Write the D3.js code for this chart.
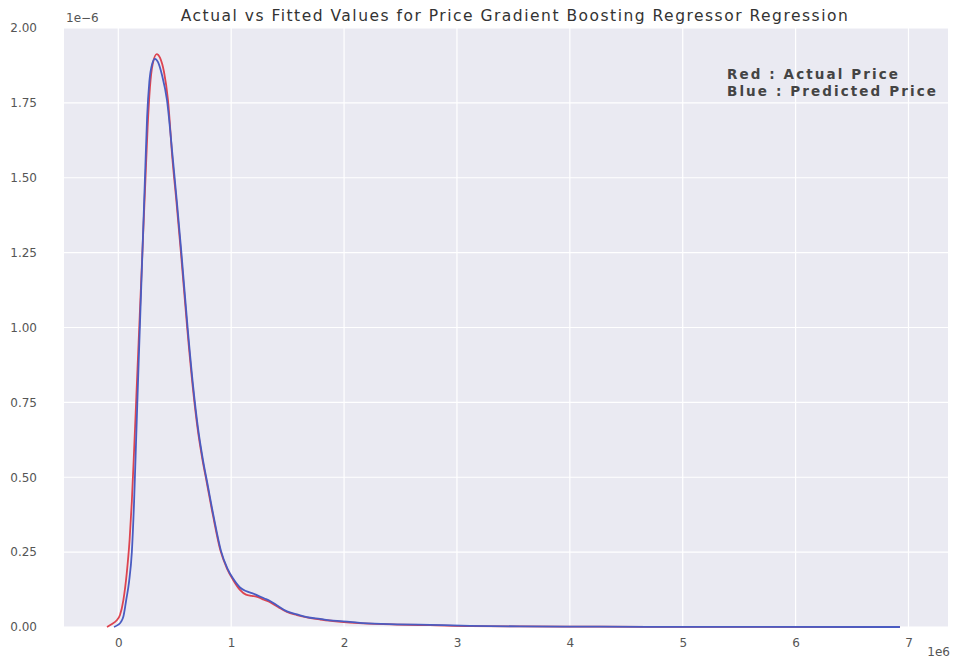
<!DOCTYPE html>
<html>
<head>
<meta charset="utf-8">
<script src="https://cdn.jsdelivr.net/npm/d3@7"></script>
<style>
  html, body { margin: 0; padding: 0; background: #ffffff; }
  svg { display: block; }
  text { font-family: "DejaVu Sans", sans-serif; }
</style>
</head>
<body>
<svg id="chart" width="957" height="660"></svg>
<script>
// Density estimates of price (x in units of 1e6, density in units of 1e-6)
const actualPrice = [-0.100, -0.056, -0.020, 0.015, 0.045, 0.075, 0.100, 0.120, 0.140, 0.160, 0.180, 0.200, 0.220, 0.240, 0.260, 0.280, 0.305, 0.340, 0.370, 0.405, 0.440, 0.480, 0.515, 0.555, 0.610, 0.660, 0.700, 0.745, 0.785, 0.840, 0.905, 0.963, 1.016, 1.078, 1.131, 1.184, 1.237, 1.290, 1.344, 1.415, 1.494, 1.583, 1.671, 1.787, 1.902, 2.053, 2.168, 2.469, 2.761, 3.115, 3.558, 4.267, 5.153, 6.924];
const actualDensity = [0.000, 0.010, 0.020, 0.040, 0.090, 0.180, 0.290, 0.420, 0.590, 0.770, 0.950, 1.130, 1.310, 1.490, 1.670, 1.800, 1.880, 1.913, 1.900, 1.853, 1.760, 1.560, 1.420, 1.249, 1.000, 0.800, 0.670, 0.560, 0.480, 0.370, 0.255, 0.195, 0.158, 0.124, 0.108, 0.104, 0.100, 0.091, 0.083, 0.067, 0.050, 0.040, 0.032, 0.025, 0.020, 0.015, 0.012, 0.008, 0.006, 0.003, 0.002, 0.001, 0.0005, 0.000];

const predictedPrice = [-0.038, -0.003, 0.024, 0.045, 0.070, 0.095, 0.120, 0.140, 0.160, 0.180, 0.200, 0.220, 0.240, 0.255, 0.275, 0.300, 0.325, 0.352, 0.387, 0.431, 0.484, 0.519, 0.559, 0.614, 0.664, 0.704, 0.749, 0.789, 0.844, 0.909, 0.967, 1.020, 1.078, 1.131, 1.184, 1.237, 1.290, 1.344, 1.415, 1.494, 1.583, 1.671, 1.787, 1.902, 2.053, 2.168, 2.469, 2.761, 3.115, 3.558, 4.267, 5.153, 6.924];
const predictedDensity = [0.000, 0.007, 0.017, 0.035, 0.090, 0.150, 0.250, 0.420, 0.650, 0.880, 1.100, 1.320, 1.540, 1.700, 1.820, 1.880, 1.897, 1.886, 1.843, 1.760, 1.560, 1.420, 1.249, 1.000, 0.800, 0.670, 0.560, 0.480, 0.370, 0.255, 0.195, 0.160, 0.132, 0.120, 0.113, 0.105, 0.096, 0.087, 0.070, 0.052, 0.042, 0.033, 0.027, 0.021, 0.017, 0.013, 0.009, 0.007, 0.004, 0.002, 0.001, 0.0005, 0.000];

const xTicks = [0, 1, 2, 3, 4, 5, 6, 7];
const yTicks = [0, 0.25, 0.5, 0.75, 1.0, 1.25, 1.5, 1.75, 2.0];

const titleText = "Actual vs Fitted Values for Price Gradient Boosting Regressor Regression";
const noteLines = ["Red : Actual Price", "Blue : Predicted Price"];

const svg = d3.select("#chart");
const plot = { left: 64, right: 948, top: 28, bottom: 627 };

const x = d3.scaleLinear().domain([-0.481, 7.35]).range([plot.left, plot.right]);
const y = d3.scaleLinear().domain([0, 2.0]).range([plot.bottom, plot.top]);

// Axes background
svg.append("rect")
  .attr("x", plot.left).attr("y", plot.top)
  .attr("width", plot.right - plot.left).attr("height", plot.bottom - plot.top)
  .attr("fill", "#eaeaf2");

// Grid lines
const grid = svg.append("g");
grid.selectAll("line.gx").data(xTicks).join("line")
  .attr("x1", d => x(d)).attr("x2", d => x(d))
  .attr("y1", plot.top).attr("y2", plot.bottom)
  .attr("stroke", "#ffffff").attr("stroke-width", 1.2);
grid.selectAll("line.gy").data(yTicks).join("line")
  .attr("x1", plot.left).attr("x2", plot.right)
  .attr("y1", d => y(d)).attr("y2", d => y(d))
  .attr("stroke", "#ffffff").attr("stroke-width", 1.2);

// Axes (tick labels only, no domain lines or tick marks)
const xAxis = svg.append("g")
  .attr("transform", `translate(0,${plot.bottom})`)
  .call(d3.axisBottom(x).tickValues(xTicks).tickFormat(d3.format("d")).tickSize(0).tickPadding(11));
const yAxis = svg.append("g")
  .attr("transform", `translate(${plot.left},0)`)
  .call(d3.axisLeft(y).tickValues(yTicks).tickFormat(d3.format(".2f")).tickSize(0).tickPadding(27));
[xAxis, yAxis].forEach(a => {
  a.select(".domain").remove();
  a.selectAll("text")
    .attr("font-family", "DejaVu Sans, sans-serif")
    .attr("font-size", 12)
    .attr("fill", "#555555");
});

// Offset labels
svg.append("text")
  .attr("x", plot.left + 2).attr("y", 22)
  .attr("font-size", 12).attr("fill", "#555555")
  .text("1e\u22126");
svg.append("text")
  .attr("x", 950).attr("y", 656)
  .attr("text-anchor", "end")
  .attr("font-size", 12).attr("fill", "#555555")
  .text("1e6");

// Density curves
const line = d3.line()
  .x(d => x(d[0]))
  .y(d => y(d[1]))
  .curve(d3.curveMonotoneX);

const series = [
  { xs: actualPrice, ys: actualDensity, color: "#dd4450" },
  { xs: predictedPrice, ys: predictedDensity, color: "#4a5cc2" }
];
svg.append("g").selectAll("path").data(series).join("path")
  .attr("d", s => line(s.xs.map((v, i) => [v, s.ys[i]])))
  .attr("fill", "none")
  .attr("stroke", s => s.color)
  .attr("stroke-width", 1.8)
  .attr("stroke-linejoin", "round");

// Title
svg.append("text")
  .attr("x", 515).attr("y", 21)
  .attr("text-anchor", "middle")
  .attr("font-size", 15.5).attr("letter-spacing", 1.5).attr("fill", "#333333")
  .text(titleText);

// Colour note
svg.append("g").selectAll("text").data(noteLines).join("text")
  .attr("x", 727).attr("y", (d, i) => 79 + i * 17)
  .attr("font-size", 13.5).attr("font-weight", 600).attr("letter-spacing", 2.1).attr("fill", "#444444")
  .text(d => d);
</script>
</body>
</html>
